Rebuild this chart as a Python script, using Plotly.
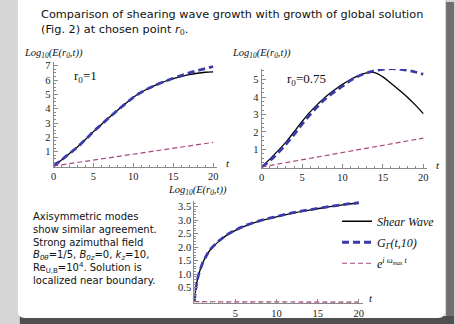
import plotly.graph_objects as go

W, H = 455, 324

# ---------------- data ----------------
t_top = list(range(0, 21))
shear_r1 = [0, 0.42, 0.87, 1.33, 1.85, 2.4, 2.9, 3.4, 3.88, 4.35, 4.8, 5.15, 5.45, 5.7, 5.92, 6.1, 6.25, 6.38, 6.48, 6.55, 6.58]
global_r1 = [0, 0.42, 0.87, 1.33, 1.85, 2.4, 2.9, 3.4, 3.88, 4.35, 4.8, 5.15, 5.45, 5.7, 5.92, 6.13, 6.32, 6.5, 6.66, 6.81, 6.95]
exp_t = [0, 20]
exp_r1 = [0, 1.65]

shear_r075 = [0, 0.45, 0.92, 1.42, 2.0, 2.6, 3.15, 3.62, 4.05, 4.4, 4.72, 5.0, 5.22, 5.38, 5.4, 5.15, 4.78, 4.4, 4.0, 3.55, 3.05]
global_r075 = [0, 0.35, 0.8, 1.3, 1.85, 2.45, 3.0, 3.5, 3.95, 4.3, 4.62, 4.95, 5.2, 5.38, 5.5, 5.58, 5.62, 5.6, 5.53, 5.43, 5.3]
exp_r075 = [0, 1.65]

t_axi = [0, 0.25, 0.5, 1, 1.5, 2, 3, 4, 5, 6, 8, 10, 12, 14, 16, 18, 20]
shear_axi = [0, 0.6, 0.95, 1.4, 1.7, 1.92, 2.22, 2.45, 2.62, 2.76, 2.97, 3.12, 3.26, 3.37, 3.47, 3.56, 3.63]
global_axi = [0, 0.6, 0.95, 1.4, 1.7, 1.93, 2.23, 2.46, 2.63, 2.77, 2.98, 3.13, 3.27, 3.38, 3.48, 3.57, 3.64]
exp_axi = [-0.02, -0.04]

x_ticks = [0, 5, 10, 15, 20]
x_ticks_axi = [5, 10, 15, 20]
y_ticks_r1 = [1, 2, 3, 4, 5, 6, 7]
y_ticks_r075 = [1, 2, 3, 4, 5]
y_ticks_axi = [0.5, 1.0, 1.5, 2.0, 2.5, 3.0, 3.5]
y_ticktext_axi = ["0.5", "1.0", "1.5", "2.0", "2.5", "3.0", "3.5"]

names = ["<i>Shear Wave</i>", "<i>G<sub>Γ</sub>(t,10)</i>", "<i>e<sup>i ω<sub>max</sub> t</sup></i>"]

# ---------------- helpers ----------------
def px(x):
    return x / W

def py(y):
    return 1 - y / H

BLACK = "#000000"
BLUE = "#3a3aa8"
MAG = "#a8477f"

fig = go.Figure()

def add_set(t, s, g, et, e, xa, ya, legend):
    fig.add_trace(go.Scatter(x=t, y=s, mode="lines", line=dict(color=BLACK, width=1.3, shape="spline"),
                             xaxis=xa, yaxis=ya, name=names[0], showlegend=legend, legendgroup="a"))
    fig.add_trace(go.Scatter(x=t, y=g, mode="lines", line=dict(color=BLUE, width=2.8, dash="7px,4px", shape="spline"),
                             xaxis=xa, yaxis=ya, name=names[1], showlegend=legend, legendgroup="b"))
    fig.add_trace(go.Scatter(x=et, y=e, mode="lines", line=dict(color=MAG, width=1.2, dash="5px,3px"),
                             xaxis=xa, yaxis=ya, name=names[2], showlegend=legend, legendgroup="c"))

add_set(t_top, shear_r1, global_r1, exp_t, exp_r1, "x", "y", False)
add_set(t_top, shear_r075, global_r075, exp_t, exp_r075, "x2", "y2", False)
add_set(t_axi, shear_axi, global_axi, exp_t, exp_axi, "x3", "y3", True)

tickfont = dict(family="Liberation Serif", size=10.5, color="#222")
axcommon = dict(showline=True, linecolor="#8a8a8a", linewidth=1, ticks="inside", ticklen=4,
                tickcolor="#8a8a8a", showgrid=False, zeroline=False, tickfont=tickfont, fixedrange=True)
minor_x = dict(dtick=1, ticklen=2, ticks="inside", tickcolor="#8a8a8a")

x1r = [0, 20.5]
fig.update_layout(
    xaxis=dict(domain=[px(51), px(51 + 20.5 * 8.05)], range=x1r, tickvals=x_ticks, anchor="y",
               minor=minor_x, **axcommon),
    yaxis=dict(domain=[py(165 + 0.05 * 14.4), py(165 - 7.25 * 14.4)], range=[-0.05, 7.25], tickvals=y_ticks_r1,
               anchor="x", minor=dict(dtick=0.25, ticklen=2, ticks="inside", tickcolor="#8a8a8a"), **axcommon),
    xaxis2=dict(domain=[px(261), px(261 + 20.5 * 8.15)], range=x1r, tickvals=x_ticks, anchor="y2",
                minor=minor_x, **axcommon),
    yaxis2=dict(domain=[py(166 + 0.05 * 17.6), py(166 - 5.6 * 17.6)], range=[-0.05, 5.6], tickvals=y_ticks_r075,
                anchor="x2", minor=dict(dtick=0.25, ticklen=2, ticks="inside", tickcolor="#8a8a8a"), **axcommon),
    xaxis3=dict(domain=[px(193), px(193 + 20.5 * 8.3)], range=x1r, tickvals=x_ticks_axi, anchor="y3",
                minor=minor_x, **axcommon),
    yaxis3=dict(domain=[py(301 + 0.07 * 27.2), py(301 - 3.72 * 27.2)], range=[-0.07, 3.72], tickvals=y_ticks_axi,
                ticktext=y_ticktext_axi, anchor="x3",
                minor=dict(dtick=0.1, ticklen=2, ticks="inside", tickcolor="#8a8a8a"), **axcommon),
)

# ---------------- background panel ----------------
x0, x1, y0, y1, r = 15, 446, -10, 318, 7
panel = (f"M {px(x0)},{py(y0)} L {px(x1)},{py(y0)} L {px(x1)},{py(y1 - r)} "
         f"Q {px(x1)},{py(y1)} {px(x1 - r)},{py(y1)} L {px(x0 + r)},{py(y1)} "
         f"Q {px(x0)},{py(y1)} {px(x0)},{py(y1 - r)} Z")
shapes = [
    dict(type="rect", xref="paper", yref="paper", x0=px(447), x1=px(455), y0=py(324), y1=py(0),
         fillcolor="#6f6f6f", line=dict(width=0), layer="below"),
    dict(type="rect", xref="paper", yref="paper", x0=px(17), x1=px(455), y0=py(324), y1=py(316),
         fillcolor="#4f4f4f", line=dict(width=0), layer="below"),
    dict(type="path", xref="paper", yref="paper", path=panel, fillcolor="#ffffff",
         line=dict(width=0), layer="below"),
]

sans = "DejaVu Sans"
serif = "Liberation Serif"
ann = []

def A(text, x, y, size, family, xanchor="left", color="#111"):
    ann.append(dict(text=text, x=px(x), y=py(y), xref="paper", yref="paper", showarrow=False,
                    xanchor=xanchor, yanchor="middle", font=dict(family=family, size=size, color=color),
                    align="left"))

A("Comparison of shearing wave growth with growth of global solution", 36, 13, 11.3, sans)
A("(Fig. 2) at chosen point <i>r</i><sub>0</sub>.", 36, 28, 11.3, sans)

ytitle = "<i>Log<sub>10</sub>(E(r<sub>0</sub>,t))</i>"
A(ytitle, 19, 52, 10.5, serif)
A(ytitle, 229, 52, 10.5, serif)
A(ytitle, 164, 190, 10.5, serif)
A("<i>t</i>", 223, 162, 11, serif)
A("<i>t</i>", 435, 164, 11, serif)
A("<i>t</i>", 367, 298, 11, serif)
A("r<sub>0</sub>=1", 70, 75, 13, serif)
A("r<sub>0</sub>=0.75", 285, 78, 13, serif)

side = [
    "Axisymmetric modes",
    "show similar agreement.",
    "Strong azimuthal field",
    "<i>B</i><sub><i>0θ</i></sub>=1/5, <i>B</i><sub><i>0z</i></sub>=0, <i>k</i><sub><i>z</i></sub>=10,",
    "Re<sub>U,B</sub>=10<sup>4</sup>. Solution is",
    "localized near boundary.",
]
for i, line in enumerate(side):
    A(line, 28, 216 + i * 12.9, 10, sans)

fig.update_layout(
    width=W, height=H, margin=dict(l=0, r=0, t=0, b=0),
    paper_bgcolor="#d6d6d6", plot_bgcolor="rgba(0,0,0,0)",
    shapes=shapes, annotations=ann,
    legend=dict(x=px(337), y=py(206), xanchor="left", yanchor="top", bgcolor="rgba(0,0,0,0)",
                font=dict(family=serif, size=12, color="#111"), traceorder="grouped", tracegroupgap=2,
                itemwidth=30),
    showlegend=True,
)

fig.write_html("out.html", config={"displayModeBar": False},
               post_script="document.body.style.margin='0px';document.body.style.overflow='hidden';")
